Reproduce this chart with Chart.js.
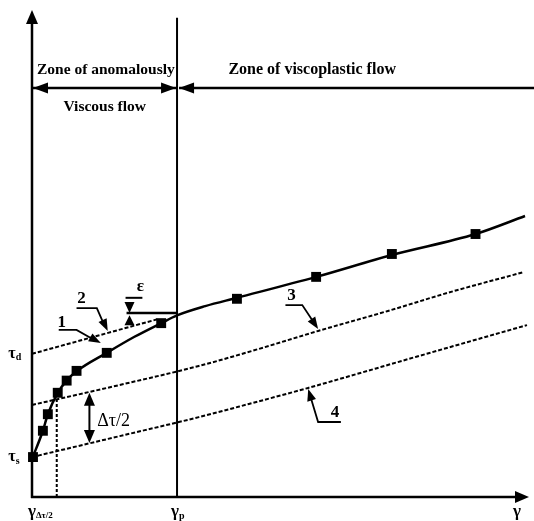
<!DOCTYPE html>
<html>
<head>
<meta charset="utf-8">
<script src="https://cdn.jsdelivr.net/npm/chart.js@4.4.1/dist/chart.umd.min.js"></script>
<style>
  html, body { margin: 0; padding: 0; background: #fff; }
  canvas { display: block; }
</style>
</head>
<body>
<canvas id="chart" width="534" height="521"></canvas>
<script>
// Flow curve, schematic units: gamma (shear rate) 0..100, tau (stress) 0..100

// curve 1 - measured flow curve (solid)
const curveGamma = [0, 2.2, 3.2, 5.2, 7.0, 9.0, 15.1, 20.7, 26.1, 29.3, 35.0, 41.4, 57.4, 72.7, 89.6, 99.6];
const curveTau   = [7.8, 13.6, 17.0, 21.4, 23.9, 25.8, 29.6, 32.9, 35.7, 37.3, 39.2, 40.9, 45.2, 49.7, 54.0, 57.7];

// measured points (squares)
const pointGamma = [0.2, 2.2, 3.2, 5.2, 7.0, 9.0, 15.1, 26.1, 41.4, 57.4, 72.7, 89.6];
const pointTau   = [8.2, 13.6, 17.0, 21.4, 23.9, 25.9, 29.6, 35.7, 40.7, 45.2, 49.9, 54.0];

// curve 2 - extension of the linear part down to tau_d
const line2Gamma = [0, 25.7];
const line2Tau   = [29.4, 36.6];

// curve 3 - upper bound
const line3Gamma = [0, 17.7, 33.7, 45.8, 57.8, 71.9, 83.9, 99.4];
const line3Tau   = [18.9, 23.0, 26.9, 30.4, 34.1, 38.2, 41.9, 46.2];

// curve 4 - lower bound starting at tau_s
const line4Gamma = [0, 17.7, 33.7, 43.8, 55.8, 77.3, 100];
const line4Tau   = [8.2, 12.5, 16.4, 19.1, 22.4, 28.7, 35.3];

// special abscissas
const gammaHalf = 5.0;   // gamma_{dtau/2}
const gammaP = 29.3;     // gamma_p
const tauHalfTop = 20.9; // where the dotted vertical stops

const xy = (xs, ys) => xs.map((x, i) => ({ x: x, y: ys[i] }));

const SERIF = '"Liberation Serif", "DejaVu Serif", serif';
const DASH = [4, 2];

function head(ctx, x0, y0, x1, y1, len, wid) {
  // filled triangle, tip at (x1, y1), pointing away from (x0, y0)
  const a = Math.atan2(y1 - y0, x1 - x0);
  const bx = x1 - len * Math.cos(a), by = y1 - len * Math.sin(a);
  const nx = -Math.sin(a) * wid / 2, ny = Math.cos(a) * wid / 2;
  ctx.beginPath();
  ctx.moveTo(x1, y1);
  ctx.lineTo(bx + nx, by + ny);
  ctx.lineTo(bx - nx, by - ny);
  ctx.closePath();
  ctx.fill();
}

function poly(ctx, pts, w) {
  ctx.lineWidth = w;
  ctx.beginPath();
  pts.forEach((p, i) => i ? ctx.lineTo(p[0], p[1]) : ctx.moveTo(p[0], p[1]));
  ctx.stroke();
}

function label(ctx, str, x, y, font, align) {
  ctx.font = font;
  ctx.textAlign = align || 'center';
  ctx.textBaseline = 'middle';
  ctx.fillText(str, x, y);
}

// main glyph with a small subscript after it
function subLabel(ctx, main, sub, x, y, size, subSize) {
  ctx.font = 'bold ' + size + 'px ' + SERIF;
  ctx.textAlign = 'center';
  ctx.textBaseline = 'middle';
  ctx.fillText(main, x, y);
  const w = ctx.measureText(main).width;
  ctx.font = 'bold ' + subSize + 'px ' + SERIF;
  ctx.textAlign = 'left';
  ctx.fillText(sub, x + w / 2, y + 4);
}

const annotate = {
  id: 'annotate',
  afterDatasetsDraw(chart) {
    const ctx = chart.ctx;
    const X = v => chart.scales.x.getPixelForValue(v);
    const Y = v => chart.scales.y.getPixelForValue(v);
    ctx.save();
    ctx.strokeStyle = '#000';
    ctx.fillStyle = '#000';
    ctx.setLineDash([]);

    // axes with arrow heads
    poly(ctx, [[X(0), Y(0) + 1], [X(0), Y(100) + 12]], 2.5);
    head(ctx, X(0), Y(0), X(0), Y(100), 14, 12);
    poly(ctx, [[X(0) - 1, Y(0)], [X(100.4) - 12, Y(0)]], 2.5);
    head(ctx, X(0), Y(0), X(100.4), Y(0), 14, 12);

    // zone arrows
    const yz = Y(84);
    poly(ctx, [[X(0), yz], [X(gammaP), yz]], 2.5);
    head(ctx, X(gammaP), yz, X(0) + 1, yz, 15, 11);
    head(ctx, X(0), yz, X(gammaP) - 1, yz, 15, 11);
    poly(ctx, [[X(gammaP) + 2, yz], [chart.width, yz]], 2.5);
    head(ctx, chart.width, yz, X(gammaP) + 2, yz, 15, 11);

    label(ctx, 'Zone of anomalously', X(1.0), Y(87.7), 'bold 15.5px ' + SERIF, 'left');
    label(ctx, 'Viscous flow', X(14.7), Y(80.1), 'bold 15.5px ' + SERIF);
    label(ctx, 'Zone of viscoplastic flow', X(56.6), Y(87.7), 'bold 16px ' + SERIF);

    // curve numbers with leaders
    const nf = 'bold 17px ' + SERIF;
    label(ctx, '1', X(6.0), Y(35.9), nf);
    poly(ctx, [[X(5.4), Y(34.3)], [X(9.0), Y(34.3)], [X(12.5), Y(32.3)]], 1.8);
    head(ctx, X(9.0), Y(34.3), X(13.9), Y(31.6), 12, 9);

    label(ctx, '2', X(10.0), Y(40.7), nf);
    poly(ctx, [[X(9.0), Y(38.8)], [X(13.1), Y(38.8)], [X(14.6), Y(35.3)]], 1.8);
    head(ctx, X(13.1), Y(38.8), X(15.3), Y(34.1), 12, 9);

    label(ctx, '3', X(52.4), Y(41.3), nf);
    poly(ctx, [[X(51.2), Y(39.4)], [X(54.6), Y(39.4)], [X(57.1), Y(35.6)]], 1.8);
    head(ctx, X(54.6), Y(39.4), X(57.8), Y(34.5), 12, 9);

    label(ctx, '4', X(61.2), Y(17.4), nf);
    poly(ctx, [[X(62.4), Y(15.4)], [X(57.8), Y(15.4)], [X(56.2), Y(20.8)]], 1.8);
    head(ctx, X(57.8), Y(15.4), X(55.8), Y(22.2), 12, 9);

    // epsilon gap
    label(ctx, '\u03b5', X(21.9), Y(43.3), 'bold 17px ' + SERIF);
    poly(ctx, [[X(18.9), Y(40.9)], [X(22.3), Y(40.9)]], 2);
    head(ctx, X(19.7), Y(40.9), X(19.7), Y(37.8), 11, 10);
    poly(ctx, [[X(19.1), Y(37.8)], [X(gammaP), Y(37.8)]], 2.5);
    head(ctx, X(19.7), Y(34.9), X(19.7), Y(37.3), 10, 10);

    // delta tau / 2 between curves 3 and 4
    poly(ctx, [[X(11.6), Y(21.4) + 8], [X(11.6), Y(11.1) - 8]], 2);
    head(ctx, X(11.6), Y(11.1), X(11.6), Y(21.4), 13, 11);
    head(ctx, X(11.6), Y(21.4), X(11.6), Y(11.1), 13, 11);
    label(ctx, '\u0394\u03c4/2', X(16.5), Y(15.6), '18px ' + SERIF);

    // axis labels
    subLabel(ctx, '\u03c4', 'd', X(0) - 20, Y(line2Tau[0]), 16, 10);
    subLabel(ctx, '\u03c4', 's', X(0) - 20, Y(line4Tau[0]), 16, 10);
    subLabel(ctx, '\u03b3', '\u0394\u03c4/2', X(0), Y(0) + 15, 17, 9);
    subLabel(ctx, '\u03b3', 'p', X(gammaP) - 2, Y(0) + 15, 17, 10);
    label(ctx, '\u03b3', X(98), Y(0) + 15, 'bold 17px ' + SERIF);

    ctx.restore();
  }
};

const dashed = (data) => ({
  data: data, showLine: true, pointRadius: 0, borderColor: '#000',
  borderWidth: 2, borderDash: DASH, cubicInterpolationMode: 'monotone', clip: false
});

new Chart(document.getElementById('chart'), {
  type: 'scatter',
  data: {
    datasets: [
      {
        // squares
        data: xy(pointGamma, pointTau), pointStyle: 'rect', pointRadius: 7,
        backgroundColor: '#000', borderColor: '#000', borderWidth: 0, clip: false
      },
      {
        data: xy(curveGamma, curveTau), showLine: true, pointRadius: 0,
        borderColor: '#000', borderWidth: 2.5, cubicInterpolationMode: 'monotone', clip: false
      },
      dashed(xy(line2Gamma, line2Tau)),
      dashed(xy(line3Gamma, line3Tau)),
      dashed(xy(line4Gamma, line4Tau)),
      {
        data: [{ x: gammaHalf, y: 0 }, { x: gammaHalf, y: tauHalfTop }],
        showLine: true, pointRadius: 0, borderColor: '#000', borderWidth: 2,
        borderDash: [3, 2], clip: false
      },
      {
        data: [{ x: gammaP, y: 0 }, { x: gammaP, y: 98.4 }],
        showLine: true, pointRadius: 0, borderColor: '#000', borderWidth: 2, clip: false
      }
    ]
  },
  options: {
    responsive: false,
    animation: false,
    layout: { padding: { left: 32, right: 4, top: 10, bottom: 24 } },
    plugins: { legend: { display: false }, tooltip: { enabled: false } },
    scales: {
      x: { type: 'linear', min: 0, max: 100, display: false },
      y: { type: 'linear', min: 0, max: 100, display: false }
    }
  },
  plugins: [annotate]
});
</script>
</body>
</html>
